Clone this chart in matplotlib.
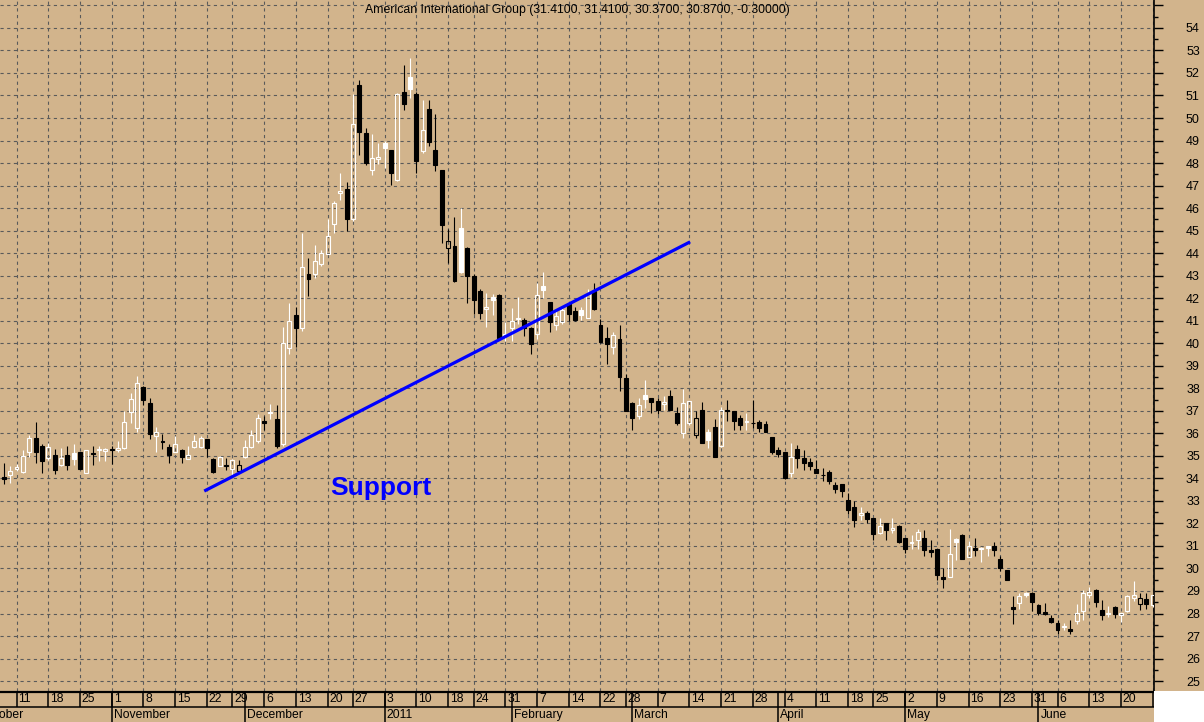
import numpy as np
import pandas as pd
import matplotlib
matplotlib.use("Agg")
from matplotlib import pyplot as plt
from matplotlib.patches import Rectangle

plt.rcParams["font.family"] = ["Liberation Sans", "DejaVu Sans"]
plt.rcParams["lines.scale_dashes"] = False

title = "American International Group (31.4100, 31.4100, 30.3700, 30.8700, -0.30000)"

# daily bars, first bar is 2010-10-07
start_date = "2010-10-07"
holidays = ["2010-11-25", "2010-12-24", "2011-01-17", "2011-02-21", "2011-04-22", "2011-05-30"]

opens = [
    34.07, 34.17, 34.41, 34.27, 35.19, 35.79, 35.44, 34.90, 35.04, 34.60,
    35.04, 35.12, 35.16, 34.23, 35.13, 35.24, 35.20, 35.29, 35.27, 35.34,
    36.93, 36.23, 38.05, 37.34, 35.86, 35.67, 35.39, 35.18, 35.27, 34.88,
    35.41, 35.41, 35.74, 34.87, 34.56, 34.60, 34.41, 34.35, 34.97, 35.39,
    35.68, 36.56, 36.90, 36.63, 35.51, 39.78, 41.24, 40.69, 43.07, 43.06,
    43.53, 43.98, 45.28, 46.69, 46.85, 45.53, 51.46, 49.32, 47.67, 48.18,
    48.87, 48.56, 47.27, 51.15, 51.82, 51.08, 48.53, 50.38, 48.58, 47.69,
    44.24, 44.32, 45.10, 44.21, 42.99, 42.30, 41.53, 42.07, 42.15, 40.34,
    40.67, 41.08, 41.04, 40.67, 40.40, 42.52, 41.85, 40.82, 40.93, 41.73,
    41.44, 41.48, 41.14, 42.30, 40.79, 40.25, 39.85, 40.20, 38.45, 37.34,
    36.75, 37.71, 37.59, 37.44, 37.32, 37.68, 36.90, 36.01, 36.45, 35.91,
    37.04, 36.04, 36.30, 35.44, 37.04, 36.97, 36.67, 36.50, 36.48, 36.51,
    36.42, 35.83, 35.24, 35.19, 34.23, 35.30, 34.90, 34.72, 34.41, 34.16,
    34.27, 33.71, 33.74, 33.04, 32.73, 32.36, 32.48, 32.23, 31.56, 32.00,
    31.70, 31.88, 31.37, 31.12, 31.28, 31.37, 30.81, 30.88, 29.63, 29.60,
    31.33, 31.48, 30.51, 30.93, 30.85, 31.02, 30.99, 30.44, 29.92, 28.30,
    28.47, 28.92, 28.92, 28.37, 28.05, 27.82, 27.60, 27.38, 27.33, 27.67,
    28.12, 28.82, 29.06, 28.15, 27.97, 28.27, 27.93, 28.12, 28.71, 28.41,
    28.64, 28.37,
]
highs = [
    34.67, 34.53, 34.64, 35.24, 35.93, 36.51, 35.53, 35.56, 35.30, 35.34,
    35.44, 35.53, 35.19, 35.27, 35.44, 35.44, 35.37, 35.44, 35.64, 37.01,
    37.79, 38.56, 38.08, 37.56, 36.27, 35.98, 35.53, 35.89, 35.30, 35.44,
    35.93, 35.89, 35.77, 34.90, 35.00, 34.90, 34.84, 34.82, 35.71, 36.13,
    36.87, 36.75, 37.31, 37.27, 40.72, 41.80, 41.61, 44.91, 43.80, 44.36,
    44.13, 45.50, 46.31, 47.57, 47.16, 51.05, 51.68, 49.54, 49.30, 48.90,
    48.98, 48.56, 51.12, 52.35, 52.67, 51.17, 50.78, 50.78, 50.19, 47.69,
    45.06, 45.60, 45.99, 44.27, 43.06, 42.41, 42.25, 42.19, 42.18, 40.93,
    41.56, 42.07, 41.11, 40.73, 42.67, 43.15, 41.85, 41.41, 41.56, 41.76,
    41.59, 41.63, 42.40, 42.67, 41.08, 40.70, 40.49, 40.82, 38.63, 37.38,
    37.56, 38.38, 37.59, 37.56, 37.64, 37.93, 37.15, 37.98, 37.44, 36.97,
    37.41, 36.20, 36.63, 37.19, 37.46, 36.97, 36.82, 36.90, 37.46, 36.60,
    36.53, 35.83, 35.39, 35.19, 35.56, 35.49, 35.27, 34.90, 34.82, 34.45,
    34.38, 33.83, 33.74, 33.37, 33.01, 32.75, 32.57, 32.23, 32.23, 32.00,
    32.23, 31.92, 31.37, 31.48, 31.77, 31.73, 31.25, 30.88, 30.00, 31.77,
    31.37, 31.53, 31.22, 31.37, 30.96, 31.02, 31.18, 30.54, 29.95, 28.77,
    28.92, 28.96, 28.96, 28.44, 28.47, 27.93, 27.70, 27.56, 27.70, 28.41,
    29.06, 29.18, 29.11, 28.62, 28.33, 28.33, 28.03, 28.81, 29.45, 28.92,
    28.89, 28.84,
]
lows = [
    33.74, 33.81, 34.33, 34.25, 34.97, 34.70, 34.26, 34.82, 34.20, 34.53,
    34.38, 34.60, 34.42, 34.23, 34.60, 34.79, 34.79, 34.64, 35.19, 35.30,
    36.45, 36.08, 37.27, 35.74, 35.19, 35.30, 34.67, 35.15, 34.67, 34.85,
    35.34, 35.34, 34.97, 34.26, 34.53, 34.38, 34.16, 34.35, 34.90, 35.37,
    35.56, 36.13, 36.63, 35.37, 35.44, 39.51, 39.85, 40.54, 42.10, 42.88,
    43.43, 43.95, 44.91, 46.34, 44.98, 45.43, 48.36, 47.91, 47.45, 47.94,
    47.76, 47.02, 47.20, 50.35, 50.90, 47.57, 48.46, 48.75, 47.64, 44.46,
    43.58, 42.73, 43.10, 41.80, 41.28, 41.06, 40.74, 41.26, 40.20, 40.11,
    40.11, 40.85, 40.34, 39.51, 40.20, 42.03, 40.52, 40.59, 40.85, 40.99,
    40.99, 41.04, 41.11, 41.48, 40.01, 39.07, 39.51, 37.89, 37.00, 36.16,
    36.64, 37.12, 36.90, 36.86, 37.04, 37.04, 36.38, 35.79, 36.38, 35.79,
    35.56, 35.37, 34.97, 35.39, 36.53, 36.16, 36.16, 36.13, 36.23, 36.04,
    36.04, 35.09, 34.94, 33.98, 34.08, 34.45, 34.38, 34.38, 34.26, 33.90,
    33.76, 33.34, 33.16, 32.42, 31.86, 32.16, 32.01, 31.27, 31.53, 31.27,
    31.59, 31.14, 30.69, 30.88, 30.88, 30.54, 30.49, 29.48, 29.15, 29.60,
    30.37, 30.40, 30.49, 30.54, 30.29, 30.54, 30.54, 29.89, 29.48, 27.53,
    28.22, 28.74, 28.12, 27.93, 27.93, 27.56, 27.08, 27.26, 27.08, 27.53,
    27.70, 28.71, 28.30, 27.70, 27.85, 27.78, 27.63, 28.07, 28.56, 28.15,
    28.22, 28.30,
]
closes = [
    33.96, 34.33, 34.51, 35.01, 35.79, 35.19, 34.79, 35.41, 34.39, 34.90,
    34.60, 34.85, 34.42, 35.27, 35.09, 35.30, 35.31, 35.24, 35.37, 36.50,
    37.52, 38.23, 37.46, 35.96, 36.05, 35.61, 35.04, 35.52, 34.97, 35.04,
    35.67, 35.79, 35.37, 34.30, 34.97, 34.56, 34.82, 34.59, 35.39, 35.92,
    36.67, 36.48, 36.95, 35.44, 40.00, 40.99, 40.69, 43.38, 42.87, 43.65,
    44.01, 44.76, 46.21, 46.77, 45.53, 49.72, 49.39, 48.01, 48.21, 48.27,
    48.65, 47.57, 51.05, 50.63, 51.30, 48.09, 49.45, 48.95, 47.91, 45.25,
    44.54, 42.76, 43.16, 42.99, 41.92, 41.33, 41.59, 41.90, 40.22, 40.40,
    40.99, 41.14, 40.67, 39.96, 42.12, 42.37, 40.96, 41.23, 41.48, 41.29,
    41.04, 41.26, 42.18, 41.51, 40.05, 39.96, 40.37, 38.52, 37.00, 36.67,
    37.27, 37.53, 37.38, 37.04, 37.38, 37.04, 36.45, 37.34, 37.44, 36.70,
    35.59, 35.71, 34.97, 37.04, 36.97, 36.57, 36.38, 36.56, 36.44, 36.23,
    36.08, 35.19, 35.09, 34.01, 34.97, 34.90, 34.70, 34.53, 34.26, 34.13,
    33.90, 33.53, 33.44, 32.60, 32.16, 32.45, 32.21, 31.52, 31.90, 31.71,
    31.80, 31.18, 30.88, 31.18, 31.62, 30.81, 30.75, 29.70, 29.55, 30.63,
    31.18, 30.44, 31.02, 30.84, 30.90, 30.92, 30.84, 30.03, 29.48, 28.22,
    28.77, 28.81, 28.52, 28.03, 28.00, 27.63, 27.26, 27.44, 27.23, 28.03,
    28.93, 28.97, 28.52, 27.93, 28.03, 28.00, 28.03, 28.77, 28.81, 28.67,
    28.44, 28.81,
]

# hand drawn support line (trading-day position, price)
support_pos = [35.8, 111.9]
support_price = [33.47, 44.47]

tan = "#d2b48c"
W, H = 1204, 722

# trading calendar used for the x axis
cal = pd.bdate_range("2010-10-01", "2011-06-27", freq="C", holidays=holidays)
x = cal.get_loc(pd.Timestamp(start_date)) + np.arange(len(closes))
xlim = (x[0] - 0.6, x[0] + 181.2)
ylim = (24.56, 55.24)

monday = cal.normalize() - pd.to_timedelta(cal.weekday, unit="D")
week_start = np.r_[True, monday[1:] != monday[:-1]]
month_start = np.r_[True, cal.month[1:] != cal.month[:-1]]
week_pos = np.where(week_start)[0]
week_pos = week_pos[(week_pos > xlim[0]) & (week_pos < xlim[1])]
month_pos = np.where(month_start)[0]

fig = plt.figure(figsize=(W / 100, H / 100), dpi=100, facecolor=tan)
fig.patches.append(Rectangle((1154 / W, 0), 50 / W, 31 / H, transform=fig.transFigure,
                             facecolor="white", edgecolor="none"))

ax = fig.add_axes([0, 31 / H, 1154 / W, 691 / H])
ax.set_facecolor(tan)

O = np.array(opens)
Hi = np.array(highs)
Lo = np.array(lows)
C = np.array(closes)
prev = np.r_[O[0], C[:-1]]
col = np.where(C > prev, "white", "black")
hollow = C > O
face = np.where(hollow, "none", col)
lo_b = np.minimum(O, C)
hi_b = np.maximum(O, C)
hgt = np.maximum(hi_b - lo_b, 0.01)

ax.vlines(x, hi_b, Hi, colors=col, lw=0.8, zorder=3)
ax.vlines(x, Lo, lo_b, colors=col, lw=0.8, zorder=3)
ax.bar(x, hgt, 0.62, bottom=lo_b, facecolor=face, edgecolor=col, linewidth=0.8, zorder=3)

ax.plot(support_pos, support_price, color="#0000ff", lw=2.3, zorder=4)
ax.text(55.4, 33.26, "Support", color="#0000ff", fontsize=19, fontweight="bold",
        va="baseline", ha="left", zorder=5)

ax.set_xticks(week_pos)
ax.tick_params(axis="x", length=0, labelbottom=False)

yt = np.arange(25, 56)
ax.yaxis.tick_right()
ax.set_yticks(yt, labels=[str(v) if v < 55 else "" for v in yt])
ax.set_yticks(np.arange(25.5, 55.5, 1), minor=True)
ax.tick_params(axis="y", which="major", length=6.5, width=1, pad=26.5, labelsize=9, colors="black")
ax.tick_params(axis="y", which="minor", length=3, width=1)
for t in ax.get_yticklabels():
    t.set_horizontalalignment("right")

# limits after the ticks, set_xticks would widen them
ax.set_xlim(*xlim)
ax.set_ylim(*ylim)

ax.grid(True, which="major", color="#5a5a5a", lw=0.8, linestyle=(0, (2.3, 2.5)))
ax.set_axisbelow(True)
for s in ["left", "top", "bottom"]:
    ax.spines[s].set_visible(False)
ax.spines["right"].set_linewidth(1.2)

fig.text(365 / W, 1 - 10 / H, title, fontsize=8.8, ha="left", va="center")

# date strip under the chart
dax = fig.add_axes([0, 0, 1154 / W, 31 / H])
dax.set_facecolor(tan)
dax.set_xlim(*xlim)
dax.set_ylim(0, 31)
dax.axis("off")
dax.axhline(30.5, color="black", lw=1.6, clip_on=False)
dax.axhline(15, color="black", lw=1.1)
dax.vlines(week_pos, 15, 31, color="black", lw=1.1)
dax.vlines(month_pos, 0, 31, color="black", lw=1.1)
for p in week_pos:
    dax.text(p + 0.3, 22.5, str(cal[p].day), fontsize=8.7, ha="left", va="center", clip_on=True)
for p in month_pos:
    lab = "2011" if cal[p].month == 1 else cal[p].strftime("%B")
    dax.text(p + 0.3, 7, lab, fontsize=8.7, ha="left", va="center", clip_on=True)

fig.savefig("out.png", dpi=100, facecolor=tan)
